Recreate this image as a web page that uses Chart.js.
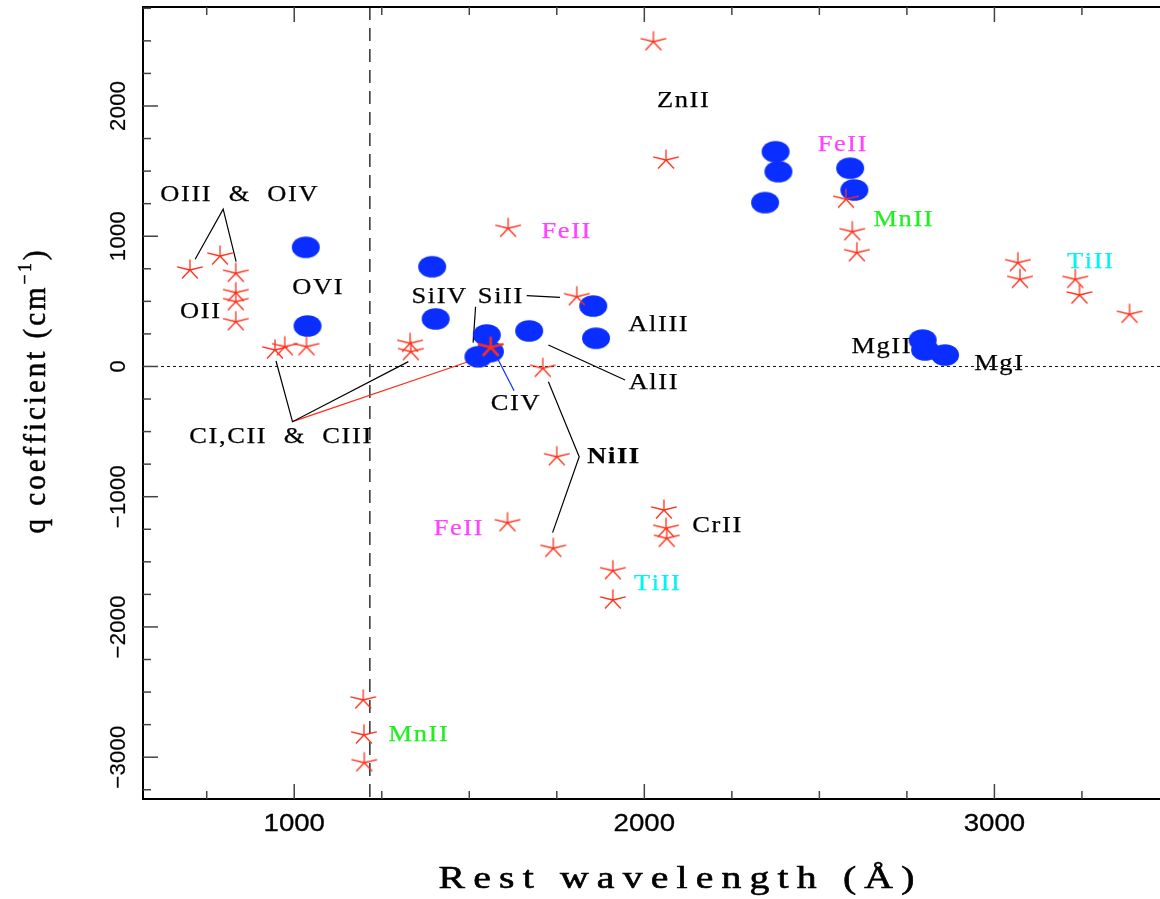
<!DOCTYPE html>
<html>
<head>
<meta charset="utf-8">
<title>q coefficients vs rest wavelength</title>
<script src="https://cdn.jsdelivr.net/npm/chart.js@4.4.0/dist/chart.umd.min.js"></script>
<style>
  html, body { margin: 0; padding: 0; background: #fff; }
  canvas { display: block; }
</style>
</head>
<body>
<canvas id="myChart" width="1160" height="899"></canvas>
<script>
'use strict';

// global variables

// transitions with q measured (asterisks): rest wavelength (A) and q (cm^-1)
let starLambda = [702, 788, 833, 833, 833, 833, 945, 973, 1035, 1331, 1333,
  1611, 1807, 1710, 1750, 1740, 1609, 1910, 1910, 2056, 2062, 2064,
  2026, 2062, 2576, 2594, 2607, 3067, 3073, 3231, 3243, 3386,
  1197, 1199, 1200];
let starQ = [741, 848, 716, 567, 498, 344, 127, 152, 152, 178, 114,
  1061, 536, -14, -693, -1396, -1199, -1568, -1793, -1102, -1242, -1319,
  2494, 1585, 1284, 1035, 874, 797, 669, 669, 549, 401,
  -2560, -2829, -3042];

// the CIV point, drawn heavier
let civLambda = [1561];
let civQ = [147];

// transitions used so far (filled dots)
let dotLambda = [1033, 1038, 1394, 1404, 1550, 1526, 1559, 1671, 1854, 1862,
  2375, 2383, 2345, 2588, 2600, 2795, 2802, 2859];
let dotQ = [915, 311, 766, 365, 242, 75, 114, 273, 464, 217,
  1649, 1496, 1258, 1522, 1355, 203, 127, 88];

// axis limits and labelled ticks
let xMin = 568;
let xMax = 3473;
let yMin = -3321;
let yMax = 2760;
let xTickLabels = [1000, 2000, 3000];
let yTickLabels = [2000, 1000, 0, -1000, -2000, -3000];
let lymanAlpha = 1216;

// ion names written next to the points
let ionLabels = [
  { text: 'OIII  &  OIV', x: 842, y: 1317, color: '#000' },
  { text: 'OII', x: 731, y: 421, color: '#000' },
  { text: 'OVI', x: 1066, y: 603, color: '#000' },
  { text: 'CI,CII  &  CIII', x: 960, y: -539, color: '#000' },
  { text: 'SiIV', x: 1413, y: 534, color: '#000' },
  { text: 'SiII', x: 1588, y: 534, color: '#000' },
  { text: 'FeII', x: 1776, y: 1036, color: '#ff44ff' },
  { text: 'ZnII', x: 2110, y: 2038, color: '#000' },
  { text: 'FeII', x: 2565, y: 1701, color: '#ff44ff' },
  { text: 'MnII', x: 2739, y: 1125, color: '#22ee22' },
  { text: 'TiII', x: 3273, y: 802, color: '#00f4f4' },
  { text: 'AlIII', x: 2039, y: 319, color: '#000' },
  { text: 'AlII', x: 2025, y: -127, color: '#000' },
  { text: 'CIV', x: 1631, y: -288, color: '#000' },
  { text: 'MgII', x: 2676, y: 150, color: '#000' },
  { text: 'MgI', x: 3012, y: 19, color: '#000' },
  { text: 'NiII', x: 1911, y: -695, color: '#000', bold: true },
  { text: 'FeII', x: 1468, y: -1248, color: '#ff44ff' },
  { text: 'CrII', x: 2207, y: -1224, color: '#000' },
  { text: 'TiII', x: 2036, y: -1670, color: '#00f4f4' },
  { text: 'MnII', x: 1354, y: -2829, color: '#22ee22' }
];

// leader lines from the names to their points
let leaderLines = [
  { color: '#000', pts: [[717, 823], [797, 1208], [834, 805]] },
  { color: '#000', pts: [[948, 42], [995, -424], [1326, 37]] },
  { color: '#ff2a1a', pts: [[995, -424], [1526, 63]] },
  { color: '#000', pts: [[1518, 459], [1511, 183]] },
  { color: '#000', pts: [[1664, 544], [1759, 531]] },
  { color: '#0a2eff', pts: [[1583, 50], [1628, -186]] },
  { color: '#000', pts: [[1726, 165], [1945, -104]] },
  { color: '#000', pts: [[1726, -117], [1814, -693], [1738, -1276]] }
];

let starColor = '#ff2e18';
let dotColor = '#0a2eff';
let serif = '"Liberation Serif", "DejaVu Serif", serif';
let sans = '"Liberation Sans", Arial, sans-serif';

// functional logic

function toPoints(xs, ys) {
  let pts = [];
  for (let i = 0; i < xs.length; i++) {
    pts.push({ x: xs[i], y: ys[i] });
  }
  return pts;
}

// five-armed asterisk, a bit wider than tall
function makeStar(lineWidth) {
  let c = document.createElement('canvas');
  c.width = 34;
  c.height = 28;
  let g = c.getContext('2d');
  g.strokeStyle = starColor;
  g.lineWidth = lineWidth;
  g.lineCap = 'butt';
  g.beginPath();
  for (let k = 0; k < 5; k++) {
    let a = k * 2 * Math.PI / 5;
    g.moveTo(17, 14);
    g.lineTo(17 + Math.sin(a) * 13.5, 14 - Math.cos(a) * 10.5);
  }
  g.stroke();
  return c;
}

function makeDot() {
  let c = document.createElement('canvas');
  c.width = 30;
  c.height = 24;
  let g = c.getContext('2d');
  g.fillStyle = dotColor;
  g.beginPath();
  g.ellipse(15, 12, 14, 10.8, 0, 0, 2 * Math.PI);
  g.fill();
  return c;
}

// centred text, widened and letter-spaced like the plot package's stroke font;
// a thin outline in the same colour gives it the same weight
function drawSpaced(ctx, text, x, y, stretch, spacing, weight) {
  ctx.save();
  ctx.translate(x, y);
  ctx.scale(stretch, 1);
  ctx.textAlign = 'left';
  ctx.strokeStyle = ctx.fillStyle;
  ctx.lineWidth = weight || 0;
  let chars = Array.from(text);
  let total = spacing * (chars.length - 1);
  for (let c of chars) total += ctx.measureText(c).width;
  let cx = -total / 2;
  for (let c of chars) {
    ctx.fillText(c, cx, 0);
    if (weight) ctx.strokeText(c, cx, 0);
    cx += ctx.measureText(c).width + spacing;
  }
  ctx.restore();
}

function drawTicks(ctx, scale, from, horizontal, dir) {
  let start = Math.ceil(scale.min / 250) * 250;
  for (let v = start; v <= scale.max; v += 250) {
    let len = v % 1000 === 0 ? 15 : 8;
    let p = scale.getPixelForValue(v);
    ctx.beginPath();
    if (horizontal) {
      ctx.moveTo(p, from);
      ctx.lineTo(p, from + dir * len);
    } else {
      ctx.moveTo(from, p);
      ctx.lineTo(from + dir * len, p);
    }
    ctx.stroke();
  }
}

let frameAndText = {
  id: 'frameAndText',
  afterDatasetsDraw(chart) {
    let ctx = chart.ctx;
    let xs = chart.scales.x;
    let ys = chart.scales.y;
    ctx.save();
    ctx.textBaseline = 'middle';
    for (let lab of ionLabels) {
      ctx.font = (lab.bold ? 'bold ' : '') + '23px ' + serif;
      ctx.fillStyle = lab.color;
      drawSpaced(ctx, lab.text, xs.getPixelForValue(lab.x), ys.getPixelForValue(lab.y), 1.15, 1.4, 0.25);
    }
    ctx.restore();
  },
  afterDraw(chart) {
    let ctx = chart.ctx;
    let a = chart.chartArea;
    let xs = chart.scales.x;
    let ys = chart.scales.y;
    ctx.save();

    // frame: left, top and bottom edges (the right edge falls just off the canvas)
    ctx.strokeStyle = '#000';
    ctx.lineWidth = 2;
    ctx.beginPath();
    ctx.moveTo(a.right + 2, a.top);
    ctx.lineTo(a.left, a.top);
    ctx.lineTo(a.left, a.bottom);
    ctx.lineTo(a.right + 2, a.bottom);
    ctx.stroke();

    // inward ticks
    ctx.strokeStyle = '#444';
    ctx.lineWidth = 1.5;
    drawTicks(ctx, xs, a.bottom, true, -1);
    drawTicks(ctx, xs, a.top, true, 1);
    drawTicks(ctx, ys, a.left, false, 1);

    // tick labels
    ctx.fillStyle = '#000';
    ctx.textBaseline = 'middle';
    ctx.font = '23px ' + sans;
    for (let v of xTickLabels) {
      drawSpaced(ctx, String(v), xs.getPixelForValue(v), a.bottom + 26, 1.2, 0, 0.3);
    }
    ctx.font = '22px ' + sans;
    for (let v of yTickLabels) {
      let txt = v < 0 ? '\u2212' + Math.abs(v) : String(v);
      ctx.save();
      ctx.translate(a.left - 24, ys.getPixelForValue(v));
      ctx.rotate(-Math.PI / 2);
      drawSpaced(ctx, txt, 0, 0, 1, 0.3, 0.2);
      ctx.restore();
    }

    // axis titles
    ctx.font = '31px ' + serif;
    drawSpaced(ctx, 'Rest wavelength (\u00c5)', (a.left + a.right) / 2 + 25, a.bottom + 81, 1.28, 6.4, 0.6);

    ctx.save();
    ctx.translate(37, (a.top + a.bottom) / 2 - 11);
    ctx.rotate(-Math.PI / 2);
    ctx.scale(1, 1.1);
    ctx.textAlign = 'left';
    ctx.strokeStyle = '#000';
    ctx.lineWidth = 0.5;
    let parts = [
      { t: 'q coefficient (cm', font: '29px ' + serif, dy: 0 },
      { t: '\u22121', font: '17px ' + serif, dy: -10 },
      { t: ')', font: '29px ' + serif, dy: 0 }
    ];
    let spacing = 3;
    let total = 0;
    for (let p of parts) {
      ctx.font = p.font;
      for (let c of Array.from(p.t)) total += ctx.measureText(c).width + spacing;
    }
    total -= spacing;
    let cx = -total / 2;
    for (let p of parts) {
      ctx.font = p.font;
      for (let c of Array.from(p.t)) {
        ctx.fillText(c, cx, p.dy);
        ctx.strokeText(c, cx, p.dy);
        cx += ctx.measureText(c).width + spacing;
      }
    }
    ctx.restore();

    ctx.restore();
  }
};

function buildDatasets() {
  let sets = [];
  sets.push({
    data: toPoints(starLambda, starQ),
    pointStyle: makeStar(1.3),
    pointRadius: 6,
    order: 0
  });
  sets.push({
    data: toPoints(civLambda, civQ),
    pointStyle: makeStar(2.6),
    pointRadius: 6,
    order: 0
  });
  sets.push({
    data: toPoints(dotLambda, dotQ),
    pointStyle: makeDot(),
    pointRadius: 6,
    order: 1
  });
  for (let l of leaderLines) {
    sets.push({
      data: l.pts.map(p => ({ x: p[0], y: p[1] })),
      showLine: true,
      borderColor: l.color,
      borderWidth: 1.2,
      pointRadius: 0,
      order: 2
    });
  }
  // q = 0 and the Lyman alpha cut
  sets.push({
    data: [{ x: xMin, y: 0 }, { x: xMax, y: 0 }],
    showLine: true,
    borderColor: '#111',
    borderWidth: 1,
    borderDash: [3, 3],
    pointRadius: 0,
    order: 3
  });
  sets.push({
    data: [{ x: lymanAlpha, y: yMax }, { x: lymanAlpha, y: yMin }],
    showLine: true,
    borderColor: '#222',
    borderWidth: 1.4,
    borderDash: [13, 8],
    pointRadius: 0,
    order: 3
  });
  return sets;
}

// executable code

let canvasChart = document.getElementById('myChart');
const myChart = new Chart(canvasChart, {
  type: 'scatter',
  data: { datasets: buildDatasets() },
  options: {
    responsive: false,
    animation: false,
    events: [],
    layout: {
      autoPadding: false,
      padding: { top: 7, right: 0, left: 0, bottom: 0 }
    },
    plugins: {
      legend: { display: false },
      tooltip: { enabled: false }
    },
    scales: {
      x: {
        type: 'linear',
        min: xMin,
        max: xMax,
        ticks: { display: false },
        grid: { display: false },
        border: { display: false },
        afterFit(scale) { scale.height = 100; }
      },
      y: {
        type: 'linear',
        min: yMin,
        max: yMax,
        ticks: { display: false },
        grid: { display: false },
        border: { display: false },
        afterFit(scale) { scale.width = 143; }
      }
    }
  },
  plugins: [frameAndText]
});
</script>
</body>
</html>
